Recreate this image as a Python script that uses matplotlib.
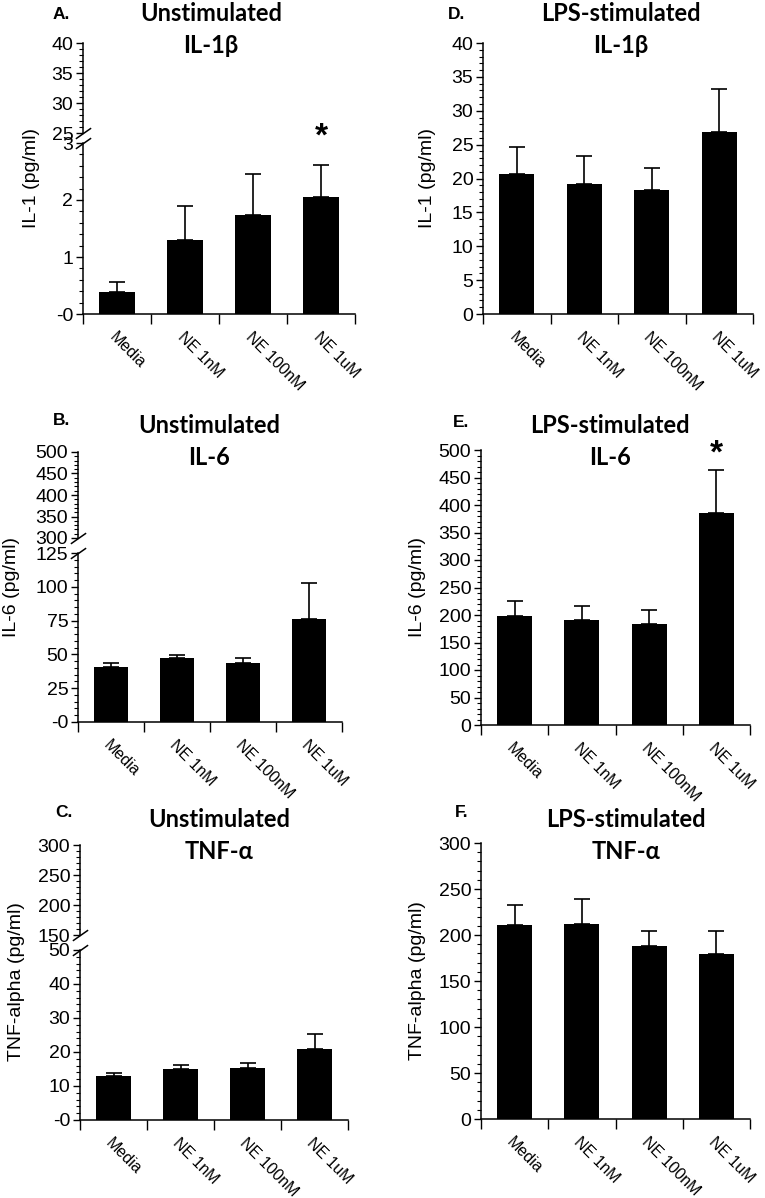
import matplotlib
matplotlib.use("Agg")
import matplotlib.pyplot as plt
from matplotlib.ticker import MultipleLocator

W = 765
H = 1198

plt.rcParams['font.family'] = ['Liberation Sans', 'DejaVu Sans']
TITLE_FONT = ['Lato', 'DejaVu Sans']

groups = ['Media', 'NE 1nM', 'NE 100nM', 'NE 1uM']

# A. unstimulated IL-1b
il1_unstim = [0.38, 1.29, 1.74, 2.06]
il1_unstim_err = [0.18, 0.60, 0.71, 0.55]
# D. LPS IL-1b
il1_lps = [20.7, 19.2, 18.3, 26.9]
il1_lps_err = [3.9, 4.1, 3.3, 6.3]
# B. unstimulated IL-6
il6_unstim = [40.5, 47.0, 44.0, 76.0]
il6_unstim_err = [3.2, 2.5, 3.0, 27.0]
# E. LPS IL-6
il6_lps = [198, 191, 183.5, 385]
il6_lps_err = [27, 26, 26.5, 78.5]
# C. unstimulated TNF-a
tnf_unstim = [12.9, 15.0, 15.3, 20.8]
tnf_unstim_err = [1.0, 1.1, 1.6, 4.5]
# F. LPS TNF-a
tnf_lps = [211, 212.5, 188, 179]
tnf_lps_err = [21.5, 27, 16.5, 25.5]

# tick values / labels
a_top_ticks = [25, 30, 35, 40]
a_low_ticks = [0, 1, 2, 3]
a_low_labels = ['-0', '1', '2', '3']
b_top_ticks = [300, 350, 400, 450, 500]
b_low_ticks = [0, 25, 50, 75, 100, 125]
b_low_labels = ['-0', '25', '50', '75', '100', '125']
c_top_ticks = [150, 200, 250, 300]
c_low_ticks = [0, 10, 20, 30, 40, 50]
c_low_labels = ['-0', '10', '20', '30', '40', '50']
d_ticks = [0, 5, 10, 15, 20, 25, 30, 35, 40]
e_ticks = [0, 50, 100, 150, 200, 250, 300, 350, 400, 450, 500]
f_ticks = [0, 50, 100, 150, 200, 250, 300]


def box(left, top, right, bottom):
    return [left / W, 1 - bottom / H, (right - left) / W, (bottom - top) / H]


def style_y(ax, ticks, labels, minor):
    ax.set_yticks(ticks)
    ax.set_yticklabels(labels if labels else [str(t) for t in ticks])
    ax.yaxis.set_minor_locator(MultipleLocator(minor))
    ax.tick_params(axis='y', which='major', direction='out', length=5, width=1,
                   labelsize=14, pad=2)
    ax.tick_params(axis='y', which='minor', direction='out', length=2.8, width=0.8)
    ax.spines['left'].set_linewidth(1.1)
    ax.spines['top'].set_visible(False)
    ax.spines['right'].set_visible(False)


def draw_bars(ax, vals, errs):
    x = list(range(len(groups)))
    ax.bar(x, vals, width=0.52, color='black', zorder=2)
    ax.errorbar(x, vals, yerr=[[0] * len(errs), errs], fmt='none', ecolor='black',
                elinewidth=1.2, capsize=5.5, capthick=1.2, zorder=3)
    ax.set_xlim(-0.5, 3.5)


def style_x(ax):
    ax.set_xticks(range(len(groups)))
    ax.set_xticklabels(groups, rotation=-45, ha='left', va='top',
                       rotation_mode='anchor', fontsize=11.5)
    ax.set_xticks([-0.5, 0.5, 1.5, 2.5, 3.5], minor=True)
    ax.tick_params(axis='x', which='major', length=0, pad=11)
    ax.tick_params(axis='x', which='minor', direction='out', length=7, width=1)
    ax.spines['bottom'].set_linewidth(1.1)


def break_mark(ax, y):
    ax.plot([0], [y], transform=ax.transAxes, marker=[(-1, -0.7), (1, 0.7)],
            markersize=11, linestyle='none', color='k', mec='k', mew=1.1,
            clip_on=False)


def broken_panel(fig, xl, xr, top, brk_top, brk_bot, bottom,
                 vals, errs, top_lim, top_ticks, top_minor,
                 low_lim, low_ticks, low_labels, low_minor):
    ax_top = fig.add_axes(box(xl, top, xr, brk_top))
    draw_bars(ax_top, vals, errs)
    ax_top.set_ylim(*top_lim)
    style_y(ax_top, top_ticks, None, top_minor)
    ax_top.spines['bottom'].set_visible(False)
    ax_top.set_xticks([])
    break_mark(ax_top, 0)

    ax_low = fig.add_axes(box(xl, brk_bot, xr, bottom))
    draw_bars(ax_low, vals, errs)
    ax_low.set_ylim(*low_lim)
    style_y(ax_low, low_ticks, low_labels, low_minor)
    style_x(ax_low)
    break_mark(ax_low, 1)
    return ax_top, ax_low


def single_panel(fig, xl, xr, top, bottom, vals, errs, lim, ticks, minor):
    ax = fig.add_axes(box(xl, top, xr, bottom))
    draw_bars(ax, vals, errs)
    ax.set_ylim(*lim)
    style_y(ax, ticks, None, minor)
    style_x(ax)
    return ax


def fig_text(fig, x, y, s, **kw):
    fig.text(x / W, 1 - y / H, s, **kw)


def titles(fig, letter, lx, ly, line1, line2, cx, base1):
    fig_text(fig, lx, ly, letter, fontsize=12.5, fontweight='bold',
             va='baseline', ha='left')
    fig_text(fig, cx, base1, line1, fontsize=17, fontweight='bold',
             family=TITLE_FONT, va='baseline', ha='center')
    fig_text(fig, cx, base1 + 32, line2, fontsize=17, fontweight='bold',
             family=TITLE_FONT, va='baseline', ha='center')


def ylab(fig, x, y, s):
    fig_text(fig, x, y, s, rotation=90, fontsize=14, ha='center', va='center')


def plot():
    fig = plt.figure(figsize=(W / 100, H / 100), dpi=100)

    # A
    ax_a_top, ax_a = broken_panel(fig, 83, 355, 43, 133, 143, 314,
                                  il1_unstim, il1_unstim_err,
                                  (25, 40), a_top_ticks, 1,
                                  (0, 3), a_low_ticks, a_low_labels, 0.2)
    ax_a.text(3, 3.1, '*', ha='center', va='center', fontsize=24,
              fontweight='bold', clip_on=False)
    titles(fig, 'A.', 53, 19, 'Unstimulated', 'IL-1\u03b2', 211, 21)
    ylab(fig, 32, 178, 'IL-1 (pg/ml)')

    # B
    broken_panel(fig, 78, 342, 452, 538, 553, 722,
                 il6_unstim, il6_unstim_err,
                 (300, 500), b_top_ticks, 10,
                 (0, 125), b_low_ticks, b_low_labels, 5)
    titles(fig, 'B.', 53, 425, 'Unstimulated', 'IL-6', 209, 433)
    ylab(fig, 12, 587, 'IL-6 (pg/ml)')

    # C
    broken_panel(fig, 80, 348, 845, 935, 950, 1120,
                 tnf_unstim, tnf_unstim_err,
                 (150, 300), c_top_ticks, 10,
                 (0, 50), c_low_ticks, c_low_labels, 2)
    titles(fig, 'C.', 55, 817, 'Unstimulated', 'TNF-\u03b1', 219, 827)
    ylab(fig, 17, 982, 'TNF-alpha (pg/ml)')

    # D
    single_panel(fig, 483, 753, 43, 314, il1_lps, il1_lps_err, (0, 40), d_ticks, 1)
    titles(fig, 'D.', 448, 19, 'LPS-stimulated', 'IL-1\u03b2', 621, 21)
    ylab(fig, 428, 178, 'IL-1 (pg/ml)')

    # E
    ax_e = single_panel(fig, 481, 750, 450, 725, il6_lps, il6_lps_err, (0, 500), e_ticks, 10)
    ax_e.text(3, 493, '*', ha='center', va='center', fontsize=24,
              fontweight='bold', clip_on=False)
    titles(fig, 'E.', 453, 427, 'LPS-stimulated', 'IL-6', 610, 433)
    ylab(fig, 418, 587, 'IL-6 (pg/ml)')

    # F
    single_panel(fig, 481, 750, 843, 1119, tnf_lps, tnf_lps_err, (0, 300), f_ticks, 10)
    titles(fig, 'F.', 455, 817, 'LPS-stimulated', 'TNF-\u03b1', 626, 827)
    ylab(fig, 418, 981, 'TNF-alpha (pg/ml)')

    fig.savefig('out.png', dpi=100)


plot()
